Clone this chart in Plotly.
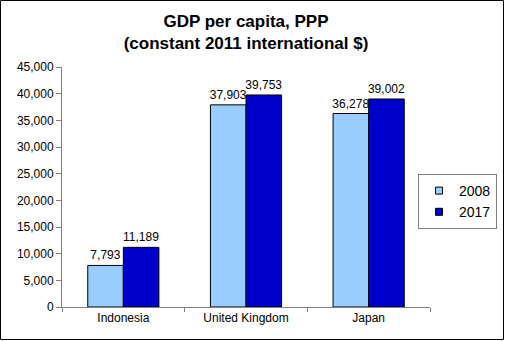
import plotly.graph_objects as go

categories = ["Indonesia", "United Kingdom", "Japan"]
series_2008 = [7793, 37903, 36278]
series_2017 = [11189, 39753, 39002]
ytick_vals = list(range(0, 45001, 5000))
ytick_text = [f"{v:,}" for v in ytick_vals]

W, H = 505, 341
L, R, T, B = 62, 75, 67, 34
pw, ph = W - L - R, H - T - B

fig = go.Figure()
for name, vals, col in [("2008", series_2008, "#99CCFF"), ("2017", series_2017, "#0000CC")]:
    fig.add_bar(name=name, x=categories, y=vals, showlegend=False,
                marker=dict(color=col, line=dict(color="#000000", width=1)),
                text=[f"{v:,}" for v in vals], textposition="outside",
                constraintext="none",
                textfont=dict(color="black", size=12), cliponaxis=False)
    fig.add_scatter(name=name, x=[None], y=[None], mode="markers",
                    marker=dict(symbol="square", size=7, color=col,
                                line=dict(color="#000000", width=1)),
                    showlegend=True)

fig.update_layout(
    width=W, height=H,
    margin=dict(l=L, r=R, t=T, b=B, autoexpand=False),
    paper_bgcolor="white", plot_bgcolor="white",
    font=dict(family="Liberation Sans, Arial, sans-serif", size=12, color="black"),
    barmode="group", bargap=0.42, bargroupgap=0,
    title=dict(text="<b>GDP per capita, PPP<br>(constant 2011 international $)</b>",
               x=0.5, xref="paper", xanchor="center", y=0.92, yanchor="middle",
               font=dict(size=17, color="black")),
    showlegend=True,
    legend=dict(x=(497 - L) / pw, y=(307 - 174) / ph, xanchor="right", yanchor="top",
                bordercolor="#808080", borderwidth=1, bgcolor="white",
                font=dict(size=14), itemwidth=30, tracegroupgap=2),
    xaxis=dict(showline=True, linecolor="#808080", linewidth=1, ticks="outside",
               tickson="boundaries", ticklen=4, tickcolor="#808080", showgrid=False,
               tickfont=dict(size=12)),
    yaxis=dict(range=[0, 45000], tickvals=ytick_vals, ticktext=ytick_text,
               showline=True, linecolor="#808080", linewidth=1, ticks="outside",
               ticklen=5, tickcolor="#808080", showgrid=False, zeroline=False,
               tickfont=dict(size=12)),
)

fig.add_shape(type="rect", xref="paper", yref="paper",
              x0=(0.5 - L) / pw, x1=(W - 1.5 - L) / pw,
              y0=(307 - (H - 1.5)) / ph, y1=(307 - 0.5) / ph,
              line=dict(color="black", width=1), layer="above")

fig.write_html("out.html")
